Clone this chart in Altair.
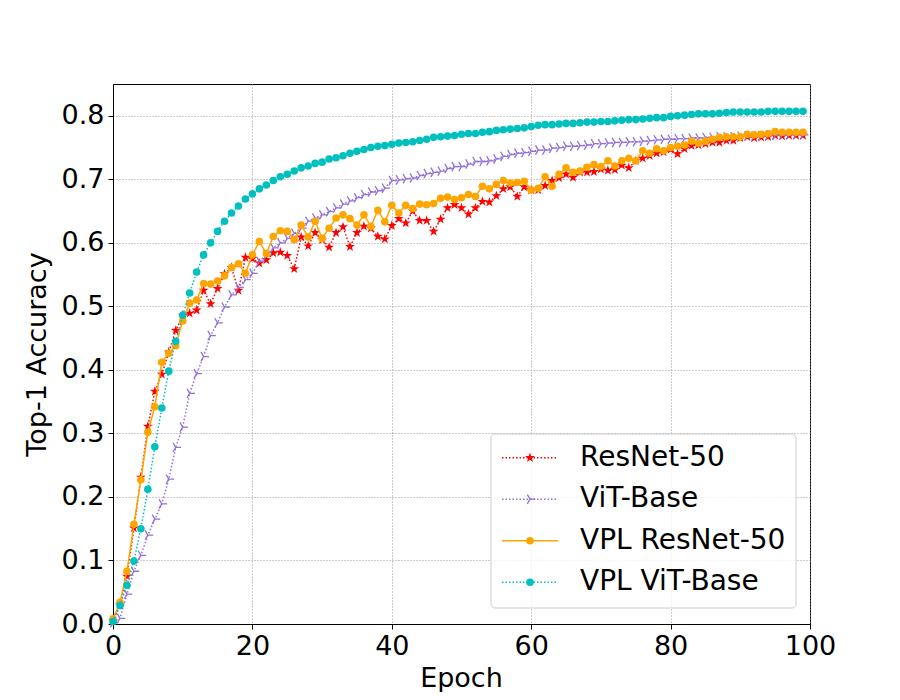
import altair as alt
import pandas as pd

epochs = list(range(100))
series_names = ["ResNet-50", "ViT-Base", "VPL ResNet-50", "VPL ViT-Base"]

resnet50 = [0.005, 0.030, 0.075, 0.151, 0.231, 0.311, 0.366, 0.393, 0.428, 0.462,
            0.486, 0.489, 0.494, 0.525, 0.504, 0.528, 0.551, 0.561, 0.525, 0.577,
            0.575, 0.568, 0.573, 0.584, 0.585, 0.580, 0.559, 0.609, 0.595, 0.616,
            0.605, 0.593, 0.616, 0.625, 0.594, 0.616, 0.626, 0.623, 0.610, 0.606,
            0.627, 0.638, 0.631, 0.650, 0.635, 0.635, 0.618, 0.637, 0.655, 0.660,
            0.655, 0.645, 0.655, 0.665, 0.664, 0.674, 0.685, 0.688, 0.673, 0.688,
            0.683, 0.683, 0.690, 0.698, 0.702, 0.708, 0.703, 0.711, 0.711, 0.712,
            0.716, 0.714, 0.715, 0.722, 0.718, 0.729, 0.733, 0.737, 0.741, 0.743,
            0.747, 0.740, 0.748, 0.753, 0.754, 0.756, 0.758, 0.758, 0.761, 0.761,
            0.765, 0.767, 0.765, 0.766, 0.767, 0.769, 0.768, 0.769, 0.769, 0.769]

vit_base = [0.002, 0.009, 0.047, 0.083, 0.108, 0.140, 0.165, 0.189, 0.228, 0.278,
            0.310, 0.363, 0.394, 0.421, 0.454, 0.474, 0.499, 0.518, 0.530, 0.542,
            0.552, 0.571, 0.581, 0.592, 0.600, 0.607, 0.615, 0.623, 0.634, 0.639,
            0.644, 0.649, 0.655, 0.661, 0.666, 0.671, 0.676, 0.680, 0.682, 0.686,
            0.698, 0.699, 0.701, 0.702, 0.706, 0.709, 0.711, 0.713, 0.717, 0.720,
            0.720, 0.724, 0.728, 0.728, 0.729, 0.732, 0.736, 0.739, 0.741, 0.742,
            0.744, 0.746, 0.746, 0.749, 0.750, 0.752, 0.752, 0.753, 0.754, 0.756,
            0.756, 0.757, 0.758, 0.758, 0.759, 0.759, 0.760, 0.761, 0.762, 0.763,
            0.763, 0.764, 0.764, 0.765, 0.765, 0.766, 0.766, 0.767, 0.767, 0.767,
            0.768, 0.768, 0.768, 0.769, 0.769, 0.769, 0.769, 0.770, 0.770, 0.770]

vpl_resnet50 = [0.008, 0.034, 0.083, 0.157, 0.227, 0.302, 0.342, 0.412, 0.426, 0.438,
                0.477, 0.505, 0.510, 0.536, 0.535, 0.540, 0.548, 0.561, 0.567, 0.552,
                0.581, 0.602, 0.583, 0.610, 0.619, 0.618, 0.605, 0.628, 0.609, 0.634,
                0.607, 0.623, 0.639, 0.644, 0.638, 0.628, 0.644, 0.626, 0.651, 0.633,
                0.659, 0.647, 0.659, 0.654, 0.661, 0.660, 0.662, 0.670, 0.672, 0.668,
                0.671, 0.676, 0.673, 0.689, 0.685, 0.692, 0.698, 0.694, 0.695, 0.697,
                0.683, 0.686, 0.704, 0.689, 0.708, 0.718, 0.711, 0.713, 0.719, 0.723,
                0.720, 0.729, 0.721, 0.729, 0.733, 0.729, 0.745, 0.741, 0.748, 0.745,
                0.750, 0.752, 0.754, 0.760, 0.757, 0.760, 0.763, 0.766, 0.767, 0.767,
                0.767, 0.771, 0.770, 0.771, 0.772, 0.775, 0.774, 0.774, 0.774, 0.774]

vpl_vit_base = [0.004, 0.029, 0.061, 0.099, 0.150, 0.212, 0.279, 0.340, 0.398, 0.445,
                0.486, 0.521, 0.554, 0.581, 0.600, 0.618, 0.634, 0.647, 0.658, 0.669,
                0.677, 0.685, 0.691, 0.698, 0.704, 0.708, 0.713, 0.718, 0.721, 0.725,
                0.727, 0.732, 0.734, 0.737, 0.741, 0.744, 0.747, 0.750, 0.752, 0.753,
                0.755, 0.757, 0.758, 0.759, 0.761, 0.763, 0.766, 0.767, 0.768, 0.769,
                0.771, 0.772, 0.772, 0.774, 0.775, 0.777, 0.778, 0.779, 0.780, 0.781,
                0.783, 0.785, 0.786, 0.786, 0.787, 0.788, 0.788, 0.789, 0.790, 0.790,
                0.791, 0.791, 0.792, 0.793, 0.794, 0.794, 0.795, 0.796, 0.797, 0.797,
                0.799, 0.800, 0.801, 0.802, 0.803, 0.803, 0.803, 0.804, 0.805, 0.806,
                0.806, 0.806, 0.806, 0.806, 0.807, 0.807, 0.807, 0.807, 0.807, 0.807]

x_ticks = [0, 20, 40, 60, 80, 100]
y_ticks = [0.0, 0.1, 0.2, 0.3, 0.4, 0.5, 0.6, 0.7, 0.8]

all_values = [resnet50, vit_base, vpl_resnet50, vpl_vit_base]
rows = []
for name, vals in zip(series_names, all_values):
    for e, v in zip(epochs, vals):
        rows.append({"epoch": e, "acc": v, "series": name})
df = pd.DataFrame(rows)

FONT = "DejaVu Sans"
TRI_RIGHT = "M0,0L1,0M0,0L-0.5,-0.866M0,0L-0.5,0.866"
STAR = ("M0,-1L0.225,-0.309L0.951,-0.309L0.363,0.118L0.588,0.809L0,0.382"
        "L-0.588,0.809L-0.363,0.118L-0.951,-0.309L-0.225,-0.309Z")

styles = {
    "ResNet-50": dict(color="#ff0000", dash=[1.5, 2], shape=STAR, filled=True, size=110),
    "ViT-Base": dict(color="#9370db", dash=[1.5, 2], shape=TRI_RIGHT, filled=False, size=115),
    "VPL ResNet-50": dict(color="#ffa500", dash=[1, 0], shape="circle", filled=True, size=58),
    "VPL ViT-Base": dict(color="#00bfbf", dash=[1.5, 2], shape="circle", filled=True, size=58),
}

x_enc = alt.X("epoch:Q",
              scale=alt.Scale(domain=[0, 100], nice=False, zero=False, padding=0),
              axis=alt.Axis(values=x_ticks, title="Epoch", format="d", labelFlush=False,
                            titleX=348, titleY=54, titleBaseline="middle"))
y_enc = alt.Y("acc:Q",
              scale=alt.Scale(domain=[0, 0.85], nice=False, padding=0),
              axis=alt.Axis(values=y_ticks, title="Top-1 Accuracy", format=".1f",
                            labelFlush=False,
                            titleX=-76, titleY=270, titleAngle=270,
                            titleBaseline="middle", titleAlign="center"))

base = alt.Chart(df).encode(x=x_enc, y=y_enc)


def point_mark(chart, st):
    if st["filled"]:
        return chart.mark_point(shape=st["shape"], filled=True, color=st["color"],
                                size=st["size"], opacity=1)
    return chart.mark_point(shape=st["shape"], filled=False, color=st["color"],
                            size=st["size"], opacity=1, strokeWidth=1.3)


layers = []
for name in series_names:
    st = styles[name]
    sub = base.transform_filter(alt.datum.series == name)
    layers.append(sub.mark_line(color=st["color"], strokeDash=st["dash"],
                                strokeWidth=1.5, clip=True))
    layers.append(point_mark(sub, st))

# legend (drawn manually to show line + marker like the original)
legend_df = pd.DataFrame({"series": series_names})
box_df = pd.DataFrame({"k": [0]})
layers.append(
    alt.Chart(box_df).mark_rect(fill="white", fillOpacity=0.8, stroke="#cccccc",
                                strokeWidth=1, cornerRadius=4)
    .encode(x=alt.value(378), x2=alt.value(683), y=alt.value(350), y2=alt.value(524))
)
for i, name in enumerate(series_names):
    st = styles[name]
    ry = 373.7 + i * 41.5
    ent = alt.Chart(legend_df).transform_filter(alt.datum.series == name)
    layers.append(ent.mark_rule(color=st["color"], strokeDash=st["dash"], strokeWidth=1.5)
                  .encode(x=alt.value(389), x2=alt.value(445), y=alt.value(ry)))
    layers.append(point_mark(ent, st).encode(x=alt.value(417), y=alt.value(ry)))
    layers.append(ent.mark_text(align="left", baseline="middle", fontSize=28,
                                font=FONT, color="black")
                  .encode(x=alt.value(467), y=alt.value(ry), text="series:N"))

chart = alt.layer(*layers).properties(
    width=697, height=540,
    autosize=alt.AutoSizeParams(type="none"),
    padding={"left": 105, "top": 76, "right": 82, "bottom": 68},
).configure_view(
    stroke="black", strokeWidth=1
).configure_axis(
    domainColor="black", domainWidth=1,
    tickColor="black", tickSize=5, tickWidth=1,
    labelColor="black", titleColor="black",
    labelFont=FONT, titleFont=FONT,
    labelFontSize=27, titleFontSize=27, titleFontWeight="normal",
    labelPadding=4, labelFlush=False,
    grid=True, gridColor="#8c8c8c", gridDash=[1, 2], gridWidth=0.9,
)

chart.save("out.html", embed_options={"renderer": "svg", "actions": False})
